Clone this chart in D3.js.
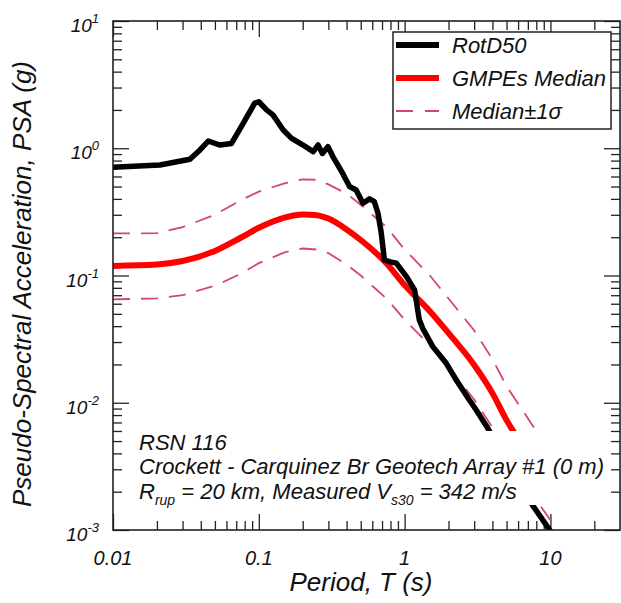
<!DOCTYPE html>
<html><head><meta charset="utf-8">
<script src="https://cdn.jsdelivr.net/npm/d3@7"></script>
<style>
body{margin:0;background:#fff}
svg text{font-family:"Liberation Sans",Arial,sans-serif;font-style:italic;fill:#111}
</style>
</head><body>
<svg id="c" width="621" height="603"></svg>
<script>
// ---- data ----
const rotdPeriods = [0.01,0.021,0.0337,0.0395,0.045,0.0541,0.065,0.0781,0.0937,0.1,0.113,0.125,0.147,0.167,0.201,0.236,0.255,0.273,0.298,0.322,0.348,0.38,0.419,0.465,0.518,0.575,0.62,0.656,0.69,0.727,0.8,0.877,1.03,1.17,1.26,1.33,1.56,1.93,2.26,2.78,3.09,3.72,7.53,10];
const rotdPSA     = [0.708,0.738,0.819,0.97,1.14,1.06,1.09,1.57,2.26,2.32,2.0,1.83,1.39,1.2,1.06,0.94,1.06,0.91,1.03,0.86,0.74,0.62,0.50,0.47,0.37,0.40,0.38,0.31,0.22,0.132,0.128,0.125,0.098,0.077,0.045,0.0385,0.0276,0.0204,0.0151,0.0105,0.0088,0.0063,0.00157,0.00098];

const gmpePeriods = [0.01,0.02,0.03,0.05,0.075,0.1,0.15,0.2,0.25,0.3,0.4,0.5,0.75,1,1.5,2,3,4,5,7.5,10];
const gmpeMedian  = [0.119,0.122,0.130,0.156,0.198,0.237,0.285,0.302,0.298,0.28,0.23,0.19,0.125,0.084,0.052,0.0353,0.0198,0.0119,0.0073,0.0036,0.0022];
const gmpePlus    = [0.214,0.215,0.24,0.30,0.39,0.456,0.53,0.57,0.565,0.52,0.44,0.36,0.24,0.16,0.099,0.066,0.037,0.022,0.0135,0.0067,0.0041];
const gmpeMinus   = [0.065,0.066,0.070,0.083,0.103,0.125,0.152,0.163,0.160,0.150,0.122,0.100,0.066,0.045,0.028,0.019,0.0106,0.0064,0.0039,0.0019,0.0012];

const xMajorTicks = [0.01,0.1,1,10];
const xTickLabels = ["0.01","0.1","1","10"];
const yMajorTicks = [0.001,0.01,0.1,1,10];
const yTickExponents = ["-3","-2","-1","0","1"];

const legendLabels = ["RotD50","GMPEs Median","Median\u00B11\u03C3"];
const xTitle = "Period, T (s)";
const yTitle = "Pseudo-Spectral Acceleration, PSA (g)";

// ---- layout ----
const L = 113, R = 620, T = 21, B = 530;
const svg = d3.select("#c");
const x = d3.scaleLog().domain([0.01, 30]).range([L, R]);
const y = d3.scaleLog().domain([0.001, 10]).range([B, T]);

const xMinor = [];
[0.01,0.1,1,10].forEach(d => { for (let k=2;k<=9;k++){ const v=d*k; if (v<30) xMinor.push(v);} });
const yMinor = [];
[0.001,0.01,0.1,1].forEach(d => { for (let k=2;k<=9;k++) yMinor.push(d*k); });

const tickColor = "#222";
const majLen = 16, minLen = 9;

// ticks via d3 axes (inward)
function addAxis(axisGen, transform) {
  const g = svg.append("g").attr("transform", transform).call(axisGen);
  g.select(".domain").remove();
  g.selectAll("text").remove();
  g.selectAll("line").attr("stroke", tickColor).attr("stroke-width", 1.3);
}
addAxis(d3.axisBottom(x).tickValues(xMajorTicks).tickSize(-majLen), `translate(0,${B})`);
addAxis(d3.axisBottom(x).tickValues(xMinor).tickSize(-minLen), `translate(0,${B})`);
addAxis(d3.axisTop(x).tickValues(xMajorTicks).tickSize(-majLen), `translate(0,${T})`);
addAxis(d3.axisTop(x).tickValues(xMinor).tickSize(-minLen), `translate(0,${T})`);
addAxis(d3.axisLeft(y).tickValues(yMajorTicks).tickSize(-majLen), `translate(${L},0)`);
addAxis(d3.axisLeft(y).tickValues(yMinor).tickSize(-minLen), `translate(${L},0)`);
addAxis(d3.axisRight(y).tickValues(yMajorTicks).tickSize(-majLen), `translate(${R},0)`);
addAxis(d3.axisRight(y).tickValues(yMinor).tickSize(-minLen), `translate(${R},0)`);

// clip
svg.append("clipPath").attr("id","plotclip").append("rect")
  .attr("x", L).attr("y", T).attr("width", R-L).attr("height", B-T);

const line = d3.line().x(d => x(d[0])).y(d => y(d[1]));
const plot = svg.append("g").attr("clip-path","url(#plotclip)");
const dashColor = "#d4466a";

plot.append("path").datum(gmpePeriods.map((p,i)=>[p,gmpePlus[i]]))
  .attr("d", line).attr("fill","none").attr("stroke",dashColor).attr("stroke-width",1.8).attr("stroke-dasharray","17,11");
plot.append("path").datum(gmpePeriods.map((p,i)=>[p,gmpeMinus[i]]))
  .attr("d", line).attr("fill","none").attr("stroke",dashColor).attr("stroke-width",1.8).attr("stroke-dasharray","17,11");
plot.append("path").datum(gmpePeriods.map((p,i)=>[p,gmpeMedian[i]]))
  .attr("d", d3.line().curve(d3.curveMonotoneX).x(d => x(d[0])).y(d => y(d[1])))
  .attr("fill","none").attr("stroke","#ff0000").attr("stroke-width",6);
plot.append("path").datum(rotdPeriods.map((p,i)=>[p,rotdPSA[i]]))
  .attr("d", line).attr("fill","none").attr("stroke","#000").attr("stroke-width",5.5)
  .attr("stroke-linejoin","round");

// annotation with white background
svg.append("rect").attr("x",130).attr("y",431).attr("width",474).attr("height",74).attr("fill","#fff");
const ann = svg.append("g").style("font-size","22px");
ann.append("text").attr("x",139).attr("y",450).text("RSN 116");
ann.append("text").attr("x",139).attr("y",474).text("Crockett - Carquinez Br Geotech Array #1 (0 m)");
const t3 = ann.append("text").attr("x",139).attr("y",499);
t3.append("tspan").text("R");
t3.append("tspan").attr("dy",6).style("font-size","14px").text("rup");
t3.append("tspan").attr("dy",-6).text(" = 20 km, Measured V");
t3.append("tspan").attr("dy",6).style("font-size","14px").text("s30");
t3.append("tspan").attr("dy",-6).text(" = 342 m/s");

// legend
const lg = svg.append("g");
lg.append("rect").attr("x",393).attr("y",32).attr("width",218).attr("height",97)
  .attr("fill","#fff").attr("stroke","#222").attr("stroke-width",1.5);
const legStyles = [
  {c:"#000", w:6, dash:null},
  {c:"#ff0000", w:6, dash:null},
  {c:dashColor, w:1.8, dash:"17,12"}
];
legendLabels.forEach((lab,i) => {
  const yy = 45 + i*33;
  const ln = lg.append("line").attr("x1",396).attr("x2",439).attr("y1",yy).attr("y2",yy)
    .attr("stroke",legStyles[i].c).attr("stroke-width",legStyles[i].w);
  if (legStyles[i].dash) ln.attr("stroke-dasharray",legStyles[i].dash);
  lg.append("text").attr("x",452).attr("y",yy+8).style("font-size","22px").text(lab);
});

// frame
svg.append("rect").attr("x",L).attr("y",T).attr("width",R-L).attr("height",B-T)
  .attr("fill","none").attr("stroke",tickColor).attr("stroke-width",1.6);

// tick labels
svg.append("g").selectAll("text").data(xMajorTicks).join("text")
  .attr("x", d => x(d)).attr("y", 565).attr("text-anchor","middle")
  .style("font-size","20px").text((d,i) => xTickLabels[i]);

const yl = svg.append("g").selectAll("text").data(yMajorTicks).join("text")
  .attr("x", 99).attr("y", d => y(d)+11).attr("text-anchor","end").style("font-size","19px");
yl.append("tspan").text("10");
yl.append("tspan").attr("dy",-9).style("font-size","13px").text((d,i) => yTickExponents[i]);

// axis titles
svg.append("text").attr("x",361).attr("y",591).attr("text-anchor","middle")
  .style("font-size","26px").text(xTitle);
svg.append("text").attr("transform","translate(31,284) rotate(-90)").attr("text-anchor","middle")
  .style("font-size","26px").text(yTitle);
</script>
</body></html>
